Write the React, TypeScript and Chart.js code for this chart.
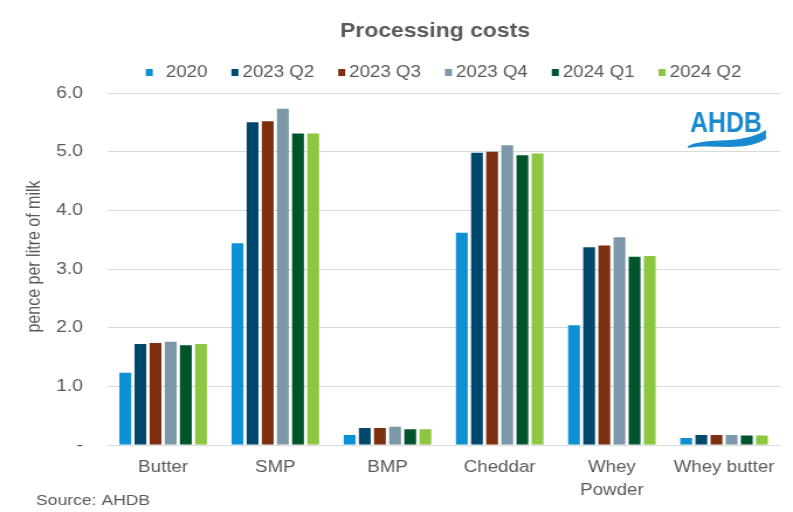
import { useEffect, useRef } from "react";
import { Chart, registerables } from "chart.js";

Chart.register(...registerables);

// ---- Data ----
const categories: (string | string[])[] = ["Butter", "SMP", "BMP", "Cheddar", ["Whey", "Powder"], "Whey butter"];
const seriesLabels = ["2020", "2023 Q2", "2023 Q3", "2023 Q4", "2024 Q1", "2024 Q2"];
const values2020 = [1.23, 3.44, 0.17, 3.62, 2.04, 0.12];
const values2023Q2 = [1.72, 5.5, 0.29, 4.98, 3.37, 0.17];
const values2023Q3 = [1.74, 5.52, 0.29, 5.0, 3.4, 0.17];
const values2023Q4 = [1.76, 5.73, 0.31, 5.11, 3.54, 0.17];
const values2024Q1 = [1.7, 5.31, 0.27, 4.94, 3.21, 0.16];
const values2024Q2 = [1.72, 5.31, 0.27, 4.97, 3.22, 0.16];
const seriesValues = [values2020, values2023Q2, values2023Q3, values2023Q4, values2024Q1, values2024Q2];
const seriesColors = ["#0E90D4", "#00476D", "#7D2F10", "#7C97A8", "#00542B", "#8DC641"];
const yTickValues = [0, 1, 2, 3, 4, 5, 6];
const titleText = "Processing costs";
const yAxisTitle = "pence per litre of milk";
const sourceText = "Source: AHDB";
const logoText = "AHDB";

// horizontal stretch of the reference image
const FULL_W = 793;
const INNER_W = 678;
const S = FULL_W / INNER_W;
const TEXT = "#595959";
const FONT = '"Liberation Sans", Arial, sans-serif';

function fitText(ctx: CanvasRenderingContext2D, text: string, x: number, y: number, targetW: number) {
  const w = ctx.measureText(text).width;
  ctx.save();
  ctx.translate(x, y);
  ctx.scale(targetW / w, 1);
  ctx.fillText(text, 0, 0);
  ctx.restore();
}

const overlayPlugin = {
  id: "overlay",
  afterDraw(chart: any) {
    const ctx: CanvasRenderingContext2D = chart.ctx;
    const area = chart.chartArea;
    const cx = (area.left + area.right) / 2;
    ctx.save();
    // Title
    ctx.fillStyle = TEXT;
    ctx.font = `bold 21px ${FONT}`;
    ctx.textAlign = "left";
    ctx.textBaseline = "middle";
    fitText(ctx, titleText, 340 / S, 31, 190 / S);

    // Legend
    ctx.font = `16px ${FONT}`;
    ctx.textAlign = "left";
    const box = 7 / S;
    const gaps = seriesLabels.map((_, i) => (i === 0 ? 13 : 4) / S);
    const spacing = 24 / S;
    const widths = seriesLabels.map((l) => ctx.measureText(l).width);
    let total = spacing * (seriesLabels.length - 1);
    seriesLabels.forEach((_, i) => (total += box + gaps[i] + widths[i]));
    let x = cx - total / 2;
    seriesLabels.forEach((l, i) => {
      ctx.fillStyle = seriesColors[i];
      ctx.fillRect(x, 69, box, 7);
      x += box + gaps[i];
      ctx.fillStyle = TEXT;
      ctx.fillText(l, x, 73);
      x += widths[i] + spacing;
    });

    // Y axis title
    ctx.save();
    ctx.translate(35 / S, 256.5);
    ctx.rotate(-Math.PI / 2);
    ctx.textAlign = "center";
    ctx.textBaseline = "middle";
    ctx.fillStyle = TEXT;
    ctx.font = `16px ${FONT}`;
    ctx.fillText(yAxisTitle, 0, 0);
    ctx.restore();

    // Source
    ctx.font = `15px ${FONT}`;
    ctx.textAlign = "left";
    ctx.textBaseline = "middle";
    ctx.fillStyle = TEXT;
    ctx.fillText(sourceText, 36 / S, 501);

    // Logo
    const blue = "#1A8AD0";
    ctx.fillStyle = blue;
    ctx.font = `bold 29px ${FONT}`;
    ctx.textBaseline = "alphabetic";
    ctx.textAlign = "left";
    fitText(ctx, logoText, 690 / S, 132, 72 / S);
    ctx.beginPath();
    ctx.moveTo(688 / S, 146);
    ctx.bezierCurveTo(710 / S, 136, 740 / S, 146, 766 / S, 130);
    ctx.lineTo(766 / S, 139);
    ctx.bezierCurveTo(742 / S, 153, 712 / S, 143, 688 / S, 148);
    ctx.closePath();
    ctx.fill();
    ctx.restore();
  },
};

export default function App() {
  const ref = useRef<HTMLCanvasElement>(null);
  useEffect(() => {
    document.body.style.margin = "0";
    document.body.style.overflow = "hidden";
    if (!ref.current) return;
    const chart = new Chart(ref.current, {
      type: "bar",
      data: {
        labels: categories as any,
        datasets: seriesLabels.map((label, i) => ({
          label,
          data: seriesValues[i],
          backgroundColor: seriesColors[i],
          borderWidth: 0,
          categoryPercentage: 0.81,
          barPercentage: 0.78,
        })),
      },
      options: {
        animation: false,
        responsive: true,
        maintainAspectRatio: false,
        layout: { padding: { top: 93, right: 11, bottom: 0, left: 0 } },
        plugins: {
          legend: { display: false },
          title: { display: false },
          tooltip: { enabled: false },
        },
        scales: {
          x: {
            grid: { display: false, drawTicks: false },
            border: { display: true, color: "#D9D9D9", width: 1 },
            ticks: {
              color: TEXT,
              font: { family: FONT, size: 16, lineHeight: 1.45 },
              padding: 11,
              maxRotation: 0,
              minRotation: 0,
              autoSkip: false,
            },
            afterFit: (s: any) => {
              s.height = 67;
            },
          },
          y: {
            min: 0,
            max: 6,
            afterBuildTicks: (s: any) => {
              s.ticks = yTickValues.map((v) => ({ value: v }));
            },
            grid: { color: "#D9D9D9", lineWidth: 1, drawTicks: false },
            border: { display: false },
            ticks: {
              color: TEXT,
              font: { family: FONT, size: 16.5 },
              padding: 20.5,
              callback: (v: any) => (Number(v) === 0 ? "-" : Number(v).toFixed(1)),
            },
            afterFit: (s: any) => {
              s.width = 91.5;
            },
          },
        },
      },
      plugins: [overlayPlugin],
    });
    return () => chart.destroy();
  }, []);

  return (
    <div style={{ width: FULL_W, height: 512, overflow: "hidden" }}>
      <div
        style={{
          width: INNER_W,
          height: 512,
          transform: `scaleX(${S})`,
          transformOrigin: "0 0",
          position: "relative",
        }}
      >
        <canvas ref={ref} />
      </div>
    </div>
  );
}
